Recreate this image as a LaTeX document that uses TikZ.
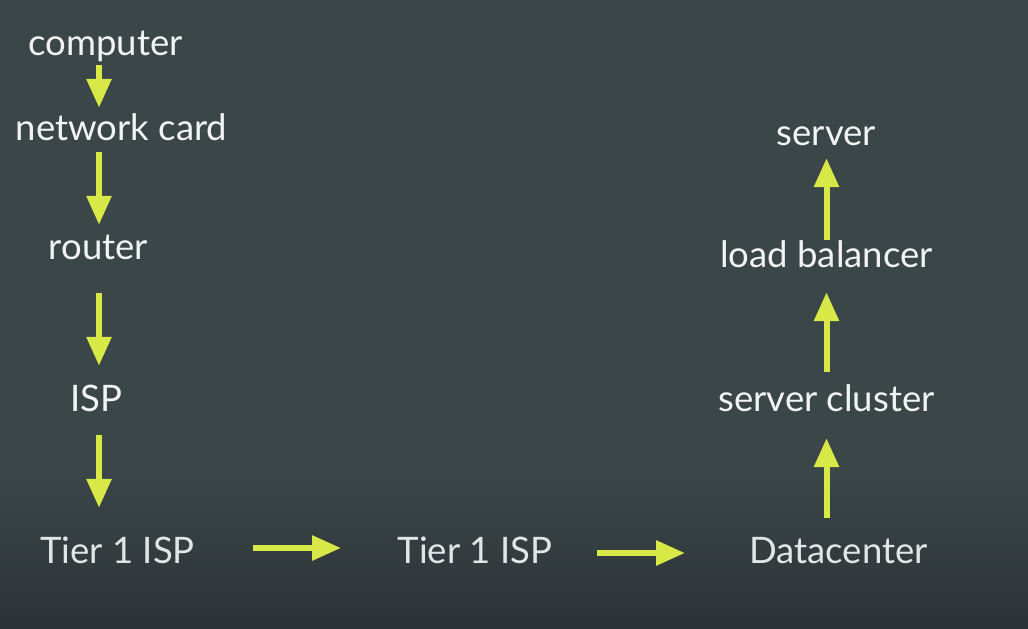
\documentclass[tikz,border=0pt]{standalone}
\usepackage{fontspec}
\setmainfont{Lato}
\usetikzlibrary{arrows.meta}
\definecolor{bgtop}{RGB}{59,70,73}
\definecolor{bgbot}{RGB}{44,51,54}
\definecolor{arrowcol}{RGB}{216,232,70}
\definecolor{labelcol}{RGB}{242,244,244}
\definecolor{labeldim}{RGB}{226,229,229}
\tikzset{
  lbl/.style={text=labelcol, font=\fontsize{36.5}{42}\selectfont, inner sep=0pt,
    text height=26pt, text depth=8pt, anchor=base},
  flow/.style={draw=arrowcol, line width=6pt,
    -{Triangle[width=24pt,length=29pt]}}
}
\begin{document}
\begin{tikzpicture}[x=1pt,y=-1pt]
  % background
  \fill[bgtop] (0,0) rectangle (1028,470);
  \shade[top color=bgtop, bottom color=bgbot] (0,469.5) rectangle (1028,629);
  \useasboundingbox (0,0) rectangle (1028,629);

  % left column
  \node[lbl] (comp)  at (105.5,55)  {computer};
  \node[lbl] (card)  at (121.5,140) {network card};
  \node[lbl] (rout)  at (98.5,259)  {router};
  \node[lbl] (isp)   at (96,411)    {ISP};
  \node[lbl, text=labeldim] (tierA) at (117.5,563) {Tier 1 ISP};
  % bottom row
  \node[lbl, text=labeldim] (tierB) at (475,563)   {Tier 1 ISP};
  \node[lbl, text=labeldim] (dc)    at (838.5,563) {Datacenter};
  % right column
  \node[lbl] (clus)  at (826.5,411) {server cluster};
  \node[lbl] (lb)    at (826.5,267) {load balancer};
  \node[lbl] (srv)   at (826.5,145) {server};

  % downward flow
  \draw[flow] ([shift={(0,2)}]comp.south -| 99,0) -- ([shift={(0,-6)}]card.north -| 99,0);
  \draw[flow] ([shift={(0,4)}]card.south -| 99,0) -- ([shift={(0,-8)}]rout.north -| 99,0);
  \draw[flow] ([shift={(0,26)}]rout.south -| 99,0) -- ([shift={(0,-19)}]isp.north -| 99,0);
  \draw[flow] ([shift={(0,16)}]isp.south -| 99,0) -- ([shift={(0,-29)}]tierA.north -| 99,0);
  % across
  \draw[flow] ([shift={(135.5,-15)}]tierA.base) -- ([shift={(-134,-15)}]tierB.base);
  \draw[flow] ([shift={(122,-10)}]tierB.base) -- ([shift={(-153.5,-10)}]dc.base);
  % upward flow
  \draw[flow] ([shift={(0,-19)}]dc.north -| clus) -- ([shift={(0,19)}]clus.south);
  \draw[flow] ([shift={(0,-13)}]clus.north) -- ([shift={(0,17)}]lb.south);
  \draw[flow] ([shift={(0,-1)}]lb.north) -- ([shift={(0,5)}]srv.south);
\end{tikzpicture}
\end{document}
